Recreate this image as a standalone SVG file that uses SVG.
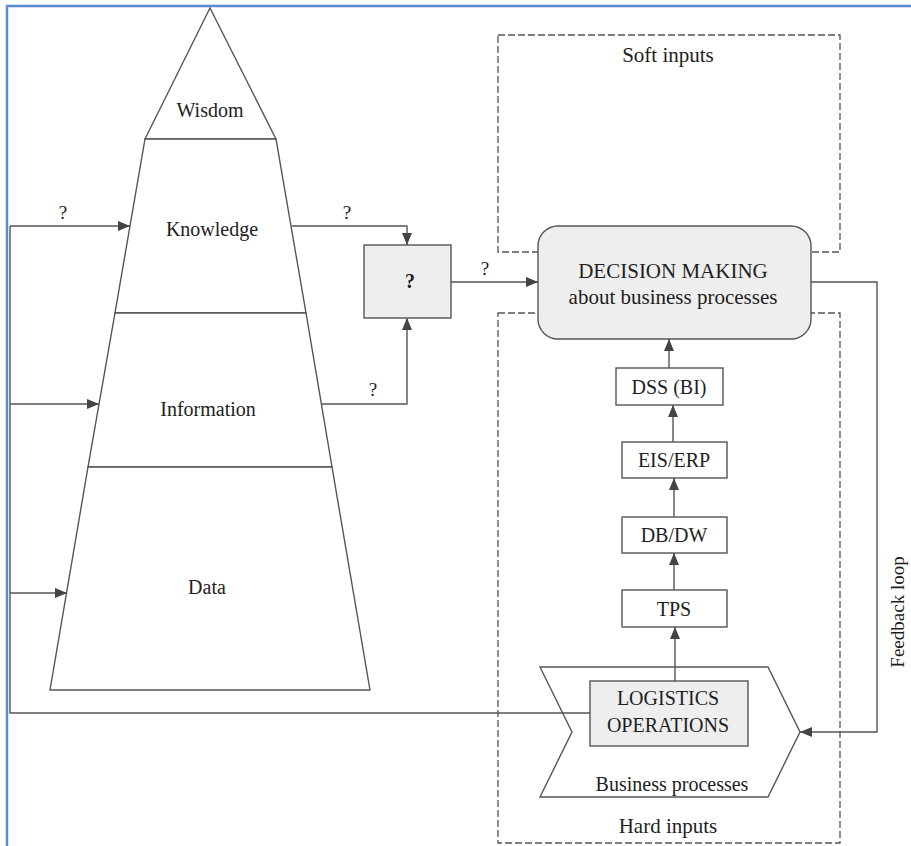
<svg xmlns="http://www.w3.org/2000/svg" width="911" height="846" viewBox="0 0 911 846">
<style>
  .t { font-family: "Liberation Serif", "Times New Roman", serif; fill: #1e1e1e; text-anchor: middle; }
  .s20 { font-size: 20px; }
  .s21 { font-size: 21px; }
  .q { font-size: 19px; }
  .ln { fill: none; stroke: #555; stroke-width: 1.4; }
  .shape { fill: #fff; stroke: #555; stroke-width: 1.4; }
  .gray { fill: #eeeeee; stroke: #555; stroke-width: 1.4; }
  .dash { fill: none; stroke: #555; stroke-width: 1.3; stroke-dasharray: 7 3; }
</style>
<defs>
  <marker id="ah" viewBox="0 0 12 10" refX="12" refY="5" markerWidth="12" markerHeight="10" markerUnits="userSpaceOnUse" orient="auto">
    <path d="M0,0 L12,5 L0,10 Z" fill="#444"/>
  </marker>
</defs>
<rect width="911" height="846" fill="#fff"/>
<path d="M7,846 V6 H911" fill="none" stroke="#5b8bd0" stroke-width="2.5"/>

<g id="soft-inputs">
  <rect class="dash" x="498" y="35" width="342" height="217"/>
  <text class="t s21" x="668" y="62">Soft inputs</text>
</g>
<g id="hard-inputs">
  <rect class="dash" x="498" y="313" width="342" height="530"/>
  <text class="t s21" x="668" y="833">Hard inputs</text>
</g>

<g id="wisdom">
  <polygon class="shape" points="210,8 276,139 145,139"/>
  <text class="t s20" x="210" y="117">Wisdom</text>
</g>
<g id="knowledge">
  <polygon class="shape" points="145,139 276,139 306,313 115,313"/>
  <text class="t s20" x="212" y="236">Knowledge</text>
</g>
<g id="information">
  <polygon class="shape" points="115,313 306,313 332,467 88,467"/>
  <text class="t s20" x="208" y="416">Information</text>
</g>
<g id="data">
  <polygon class="shape" points="88,467 332,467 370,690 50,690"/>
  <text class="t s20" x="207" y="594">Data</text>
</g>

<g id="question-box">
  <rect class="gray" x="364" y="245" width="87" height="73"/>
  <text class="t s20" x="410" y="288" font-weight="bold">?</text>
</g>

<g id="decision-making">
  <rect class="gray" x="538" y="226" width="273" height="113" rx="20" ry="20"/>
  <text class="t s21" x="673" y="278">DECISION MAKING</text>
  <text class="t s21" x="673" y="304">about business processes</text>
</g>

<g id="dss">
  <rect class="shape" x="616" y="368" width="107" height="37"/>
  <text class="t s20" x="669" y="394">DSS (BI)</text>
</g>
<g id="eis-erp">
  <rect class="shape" x="622" y="442" width="105" height="36"/>
  <text class="t s20" x="674" y="467">EIS/ERP</text>
</g>
<g id="db-dw">
  <rect class="shape" x="622" y="517" width="105" height="36"/>
  <text class="t s20" x="674" y="542">DB/DW</text>
</g>
<g id="tps">
  <rect class="shape" x="622" y="590" width="105" height="37"/>
  <text class="t s20" x="674" y="616">TPS</text>
</g>

<g id="business-processes">
  <polygon class="shape" points="540,667 768,667 800,732 768,797 540,797 572,732"/>
  <text class="t s20" x="672" y="791">Business processes</text>
</g>

<g id="connectors">
  <path class="ln" d="M10,226 H130" marker-end="url(#ah)"/>
  <path class="ln" d="M10,404 H99" marker-end="url(#ah)"/>
  <path class="ln" d="M10,593 H67" marker-end="url(#ah)"/>
  <path class="ln" d="M590,713 H10 V226"/>
  <path class="ln" d="M292,226 H407 V245" marker-end="url(#ah)"/>
  <path class="ln" d="M321,404 H407 V318" marker-end="url(#ah)"/>
  <path class="ln" d="M451,282 H538" marker-end="url(#ah)"/>
  <path class="ln" d="M669,368 V339" marker-end="url(#ah)"/>
  <path class="ln" d="M673,442 V405" marker-end="url(#ah)"/>
  <path class="ln" d="M674,517 V478" marker-end="url(#ah)"/>
  <path class="ln" d="M674,590 V553" marker-end="url(#ah)"/>
  <path class="ln" d="M675,681 V627" marker-end="url(#ah)"/>
  <path class="ln" d="M811,282 H877 V732 H800" marker-end="url(#ah)"/>
  <text class="t q" x="63" y="219">?</text>
  <text class="t q" x="347" y="219">?</text>
  <text class="t q" x="373" y="396">?</text>
  <text class="t q" x="485" y="275">?</text>
  <text class="t" font-size="19" x="0" y="0" transform="translate(904,612) rotate(-90)">Feedback loop</text>
</g>

<g id="logistics-operations">
  <rect class="gray" x="590" y="681" width="158" height="65"/>
  <text class="t s20" x="668" y="705">LOGISTICS</text>
  <text class="t s20" x="668" y="732">OPERATIONS</text>
</g>
</svg>
